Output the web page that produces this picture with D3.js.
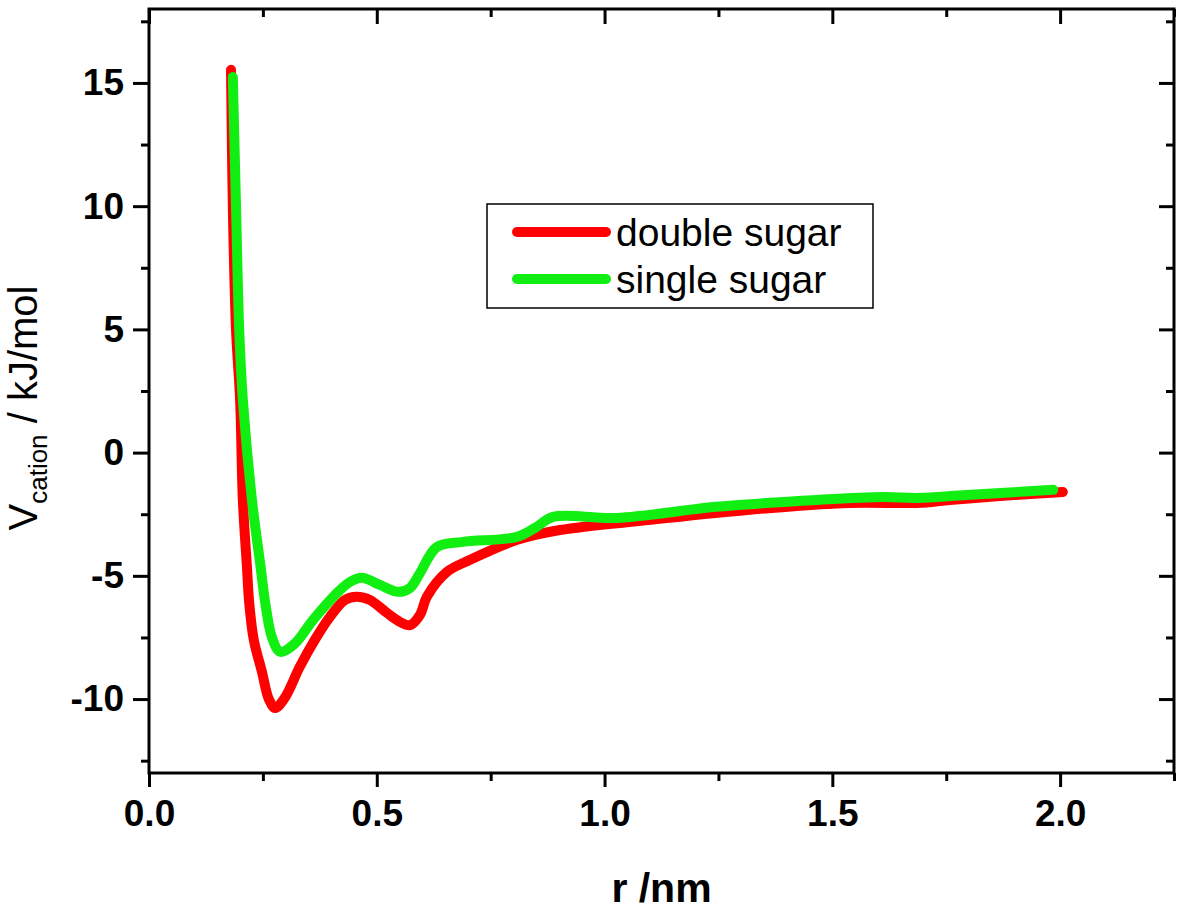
<!DOCTYPE html>
<html>
<head>
<meta charset="utf-8">
<script src="https://cdn.jsdelivr.net/npm/d3@7"></script>
<style>
  body { margin: 0; background: #fff; }
  text { font-family: Arial, "Liberation Sans", sans-serif; }
</style>
</head>
<body>
<script>
// V_cation vs r for the two sugar systems

var w = 1181;
var h = 912;

// r /nm
var doubleR = [0.180, 0.184, 0.191, 0.200, 0.206, 0.215, 0.220, 0.230, 0.248, 0.263, 0.277, 0.298, 0.331, 0.364, 0.397, 0.430, 0.456, 0.485, 0.522, 0.551, 0.573, 0.595, 0.610, 0.654, 0.705, 0.808, 0.902, 1.100, 1.319, 1.539, 1.686, 1.758, 1.868, 2.006];
// kJ/mol
var doubleV = [15.53, 10.0, 5.0, 2.14, -1.92, -4.64, -6.1, -7.6, -8.9, -10.0, -10.36, -9.95, -8.69, -7.6, -6.67, -5.98, -5.85, -5.98, -6.5, -6.87, -7.0, -6.58, -5.85, -4.84, -4.35, -3.54, -3.14, -2.73, -2.32, -2.04, -2.04, -1.92, -1.76, -1.6];

var singleR = [0.184, 0.191, 0.198, 0.206, 0.226, 0.244, 0.256, 0.270, 0.288, 0.320, 0.360, 0.413, 0.441, 0.467, 0.507, 0.547, 0.573, 0.595, 0.632, 0.689, 0.808, 0.851, 0.887, 1.027, 1.246, 1.466, 1.612, 1.686, 1.795, 1.985];
var singleV = [15.24, 10.0, 5.0, 2.14, -1.92, -4.5, -6.2, -7.5, -8.08, -7.75, -6.79, -5.69, -5.25, -5.08, -5.37, -5.65, -5.49, -4.88, -3.83, -3.62, -3.42, -3.01, -2.61, -2.65, -2.20, -1.92, -1.80, -1.84, -1.72, -1.51];

var seriesNames = ["double sugar", "single sugar"];
var seriesColors = ["#ff0000", "#11ee11"];

var xMajor = [0.0, 0.5, 1.0, 1.5, 2.0];
var xMinor = [0.25, 0.75, 1.25, 1.75, 2.25];
var yMajor = [-10, -5, 0, 5, 10, 15];
var yMinor = [-12.5, -7.5, -2.5, 2.5, 7.5, 12.5, 17.5];

var pLeft = 149, pRight = 1174, pTop = 9, pBottom = 773;

var x = d3.scaleLinear().domain([0, 2.25]).range([pLeft, pRight]);
var y = d3.scaleLinear().domain([-13, 18]).range([pBottom, pTop]);

var svg = d3.select("body")
    .append("svg")
    .attr("width", w)
    .attr("height", h);

// bottom axis, ticks out
var gb = svg.append("g").attr("transform", "translate(0," + pBottom + ")");
gb.call(d3.axisBottom(x).tickValues(xMajor).tickSize(14).tickPadding(13).tickFormat(d3.format(".1f")));
gb.append("g").call(d3.axisBottom(x).tickValues(xMinor).tickSize(8).tickFormat(""));

// left axis, ticks out
var gl = svg.append("g").attr("transform", "translate(" + pLeft + ",0)");
gl.call(d3.axisLeft(y).tickValues(yMajor).tickSize(16).tickPadding(9).tickFormat(d3.format("d")));
gl.append("g").call(d3.axisLeft(y).tickValues(yMinor).tickSize(8).tickFormat(""));

// top axis, ticks in
var gt = svg.append("g").attr("transform", "translate(0," + pTop + ")");
gt.call(d3.axisTop(x).tickValues(xMajor).tickSize(-15).tickFormat(""));
gt.append("g").call(d3.axisTop(x).tickValues(xMinor).tickSize(-8).tickFormat(""));

// right axis, ticks in
var gr = svg.append("g").attr("transform", "translate(" + pRight + ",0)");
gr.call(d3.axisRight(y).tickValues(yMajor).tickSize(-15).tickFormat(""));
gr.append("g").call(d3.axisRight(y).tickValues(yMinor).tickSize(-8).tickFormat(""));

svg.selectAll(".domain").remove();
svg.selectAll(".tick line").attr("stroke", "#000").attr("stroke-width", 3);
svg.selectAll(".tick text")
    .attr("fill", "#000")
    .style("font-size", "37px")
    .style("font-weight", "bold")
    .text(function() {
        return d3.select(this).text().replace("−", "-");
    });

// frame
svg.append("rect")
    .attr("x", pLeft)
    .attr("y", pTop)
    .attr("width", pRight - pLeft)
    .attr("height", pBottom - pTop)
    .attr("fill", "none")
    .attr("stroke", "#000")
    .attr("stroke-width", 3);

// curves
var line = d3.line()
    .x(function(d) { return x(d[0]); })
    .y(function(d) { return y(d[1]); })
    .curve(d3.curveCatmullRom.alpha(0.5));

var allSeries = [
    d3.zip(doubleR, doubleV),
    d3.zip(singleR, singleV)
];

svg.selectAll(".curve")
    .data(allSeries)
    .enter()
    .append("path")
    .attr("class", "curve")
    .attr("d", line)
    .attr("fill", "none")
    .attr("stroke", function(d, i) { return seriesColors[i]; })
    .attr("stroke-width", 10)
    .attr("stroke-linecap", "round")
    .attr("stroke-linejoin", "round");

// legend
var lg = svg.append("g");
lg.append("rect")
    .attr("x", 487)
    .attr("y", 204)
    .attr("width", 386)
    .attr("height", 104)
    .attr("fill", "#fff")
    .attr("stroke", "#000")
    .attr("stroke-width", 1.5);

var items = lg.selectAll(".item")
    .data(seriesNames)
    .enter()
    .append("g")
    .attr("class", "item")
    .attr("transform", function(d, i) { return "translate(0," + (232 + i * 47) + ")"; });

items.append("line")
    .attr("x1", 517).attr("x2", 606)
    .attr("stroke", function(d, i) { return seriesColors[i]; })
    .attr("stroke-width", 10)
    .attr("stroke-linecap", "round");

items.append("text")
    .attr("x", 616)
    .attr("dy", "0.35em")
    .style("font-size", "39px")
    .text(function(d) { return d; });

// axis titles
svg.append("text")
    .attr("x", (pLeft + pRight) / 2)
    .attr("y", 902)
    .attr("text-anchor", "middle")
    .style("font-size", "41px")
    .style("font-weight", "bold")
    .text("r /nm");

var yt = svg.append("text")
    .attr("transform", "translate(37,408) rotate(-90)")
    .attr("text-anchor", "middle")
    .style("font-size", "40px");
yt.append("tspan").text("V");
yt.append("tspan").attr("dy", 10).style("font-size", "26px").text("cation");
yt.append("tspan").attr("dy", -10).text(" / kJ/mol");
</script>
</body>
</html>
